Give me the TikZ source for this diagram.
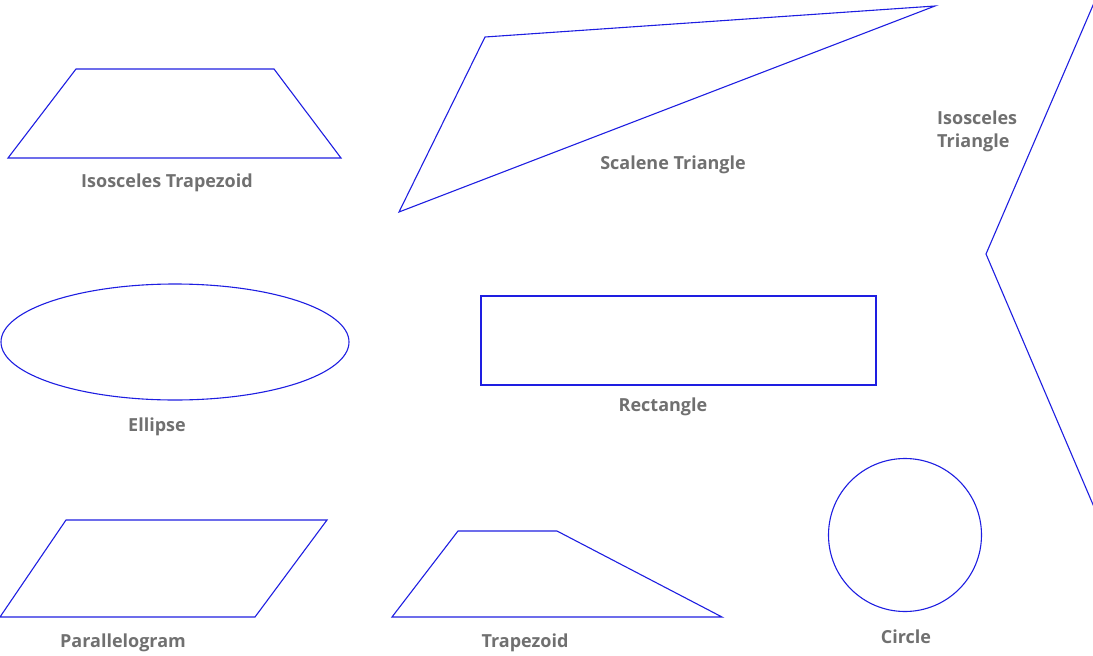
\documentclass[tikz,border=0pt]{standalone}
\usepackage{fontspec}
\setmainfont{Open Sans}
\begin{document}
\begin{tikzpicture}[x=1pt,y=-1pt,
  shape line/.style={draw={rgb,255:red,30;green,30;blue,225}, line width=1.1pt, line join=miter},
  caption/.style={text={rgb,255:red,112;green,112;blue,112}, font=\fontsize{18}{23}\selectfont\bfseries, inner sep=0pt},
  capleft/.style={caption, align=left, anchor=north west}]
  \useasboundingbox (0,0) rectangle (1093,656);
  \clip (0,0) rectangle (1093,656);

  % isosceles trapezoid
  \draw[shape line] (76,69) -- (274,69) -- (341,158) -- (8,158) -- cycle;
  \node[caption] (lblIsoTrap) at (167,183) {Isosceles Trapezoid};

  % scalene triangle
  \draw[shape line] (485,37) -- (935,6) -- (399,212) -- cycle;
  \node[caption] (lblScalene) at (673,165) {Scalene Triangle};

  % isosceles triangle, running off the right edge
  \draw[shape line] (1100,-11) -- (986,254) -- (1100,521);
  \node[capleft] (lblIsoTri) at (937,111) {Isosceles\\Triangle};

  % ellipse
  \draw[shape line] (175,342) ellipse [x radius=174, y radius=58];
  \node[caption] (lblEllipse) at (157,427) {Ellipse};

  % rectangle
  \draw[shape line] (481,296) rectangle (876,385);
  \node[caption] (lblRect) at (663,407) {Rectangle};

  % parallelogram
  \draw[shape line] (66,520) -- (327,520) -- (255,617) -- (0,617) -- cycle;
  \node[caption] (lblPara) at (123,643) {Parallelogram};

  % trapezoid
  \draw[shape line] (458,531) -- (557,531) -- (722,617) -- (392,617) -- cycle;
  \node[caption] (lblTrap) at (525,643) {Trapezoid};

  % circle
  \draw[shape line] (905,535) circle [radius=76.5];
  \node[caption] (lblCircle) at (906,637) {Circle};
\end{tikzpicture}
\end{document}
